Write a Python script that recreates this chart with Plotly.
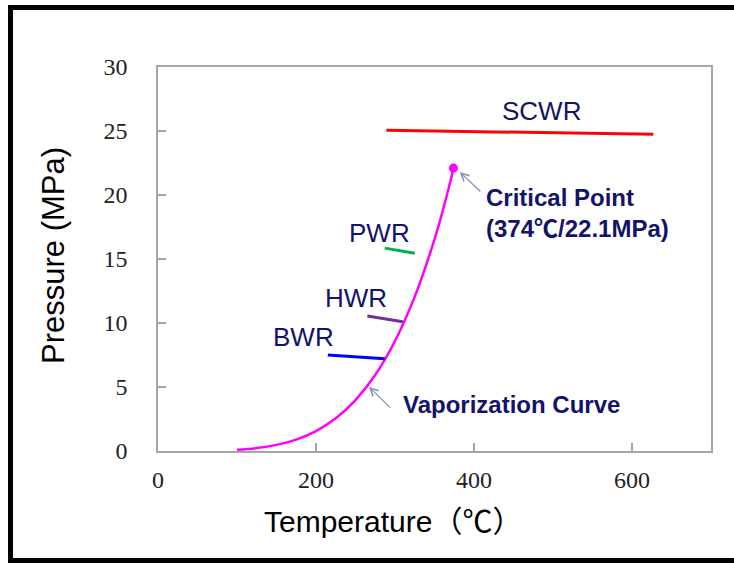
import plotly.graph_objects as go

# Vaporization (saturation) curve of water
sat_temp = [100, 125, 150, 175, 200, 225, 250, 275, 300, 325, 350, 360, 370, 374]
sat_pres = [0.10, 0.23, 0.48, 0.89, 1.55, 2.55, 3.98, 5.94, 8.59, 12.06, 16.53, 18.67, 21.04, 22.1]

crit_temp = [374]
crit_pres = [22.1]

scwr_temp = [289, 627]
scwr_pres = [25.05, 24.75]
pwr_temp = [287, 325]
pwr_pres = [15.85, 15.45]
hwr_temp = [265, 310]
hwr_pres = [10.55, 10.1]
bwr_temp = [215, 287]
bwr_pres = [7.5, 7.2]

x_ticks = [0, 200, 400, 600]
y_ticks = [0, 5, 10, 15, 20, 25, 30]

NAVY = "#13136a"
SANS = "Liberation Sans, Arial, Noto Sans CJK JP, sans-serif"
SERIF = "Liberation Serif, Times New Roman, serif"

fig = go.Figure()
fig.add_trace(go.Scatter(x=sat_temp, y=sat_pres, mode="lines",
                         line=dict(color="#ff00ff", width=2.5, shape="spline"),
                         showlegend=False, hoverinfo="skip"))
fig.add_trace(go.Scatter(x=crit_temp, y=crit_pres, mode="markers",
                         marker=dict(color="#ff00ff", size=9),
                         showlegend=False))
for xs, ys, col in [(scwr_temp, scwr_pres, "#ff0000"),
                    (pwr_temp, pwr_pres, "#00b050"),
                    (hwr_temp, hwr_pres, "#7030a0"),
                    (bwr_temp, bwr_pres, "#0000ff")]:
    fig.add_trace(go.Scatter(x=xs, y=ys, mode="lines",
                             line=dict(color=col, width=3),
                             showlegend=False))

labels = [("SCWR", 485, 26.6), ("PWR", 281, 17.0), ("HWR", 250.6, 11.95), ("BWR", 184.8, 8.9)]
for t, x, y in labels:
    fig.add_annotation(x=x, y=y, text=t, showarrow=False,
                       font=dict(family=SANS, size=26, color=NAVY),
                       xanchor="center", yanchor="middle")

bold_labels = [("<b>Critical Point</b>", 413, 19.84),
               ("<b>(374℃/22.1MPa)</b>", 413, 17.42),
               ("<b>Vaporization Curve</b>", 308, 3.6)]
for t, x, y in bold_labels:
    fig.add_annotation(x=x, y=y, text=t, showarrow=False,
                       font=dict(family=SANS, size=24, color=NAVY),
                       xanchor="left", yanchor="middle")

# arrows
for hx, hy, tx, ty in [(382, 21.8, 410, 20.16), (267, 5.0, 296, 3.28)]:
    fig.add_annotation(x=hx, y=hy, ax=tx, ay=ty, axref="x", ayref="y",
                       text="", showarrow=True, arrowhead=5, arrowsize=1.3,
                       arrowwidth=1.2, arrowcolor="#8a8aae")

# axis titles
fig.add_annotation(xref="paper", yref="paper", x=(393 - 158) / 553, y=(451 - 519) / 384,
                   text='Temperature<span style="font-family:Noto Sans CJK JP">（℃）</span>',
                   showarrow=False,
                   font=dict(family=SANS, size=30, color="#000000"),
                   xanchor="center", yanchor="middle")
fig.add_annotation(xref="paper", yref="paper", x=(53 - 158) / 553, y=(451 - 256) / 384,
                   text="Pressure (MPa)", showarrow=False, textangle=-90,
                   font=dict(family=SANS, size=31, color="#000000"),
                   xanchor="center", yanchor="middle")

# outer frame (black border on top, left, bottom)
fig.add_shape(type="rect", xref="paper", yref="paper",
              x0=(10.5 - 158) / 553, x1=(745 - 158) / 553,
              y0=(451 - 560.5) / 384, y1=(451 - 7.5) / 384,
              line=dict(color="#000000", width=5), fillcolor="rgba(0,0,0,0)", layer="above")

axis_common = dict(showgrid=False, zeroline=False, showline=True, mirror=True,
                   linecolor="#a6a6a6", linewidth=1.5, ticks="inside", ticklen=8,
                   tickwidth=1.5, tickcolor="#a6a6a6",
                   tickfont=dict(family=SERIF, size=24, color="#222222"))

fig.update_xaxes(range=[0, 700], tickvals=x_ticks, ticklabelstandoff=6, **axis_common)
fig.update_yaxes(range=[0, 30], tickvals=y_ticks, ticklabelstandoff=24, **axis_common)

fig.update_layout(width=734, height=563,
                  margin=dict(l=158, r=23, t=67, b=112),
                  paper_bgcolor="white", plot_bgcolor="white",
                  showlegend=False)

fig.write_html("out.html")
